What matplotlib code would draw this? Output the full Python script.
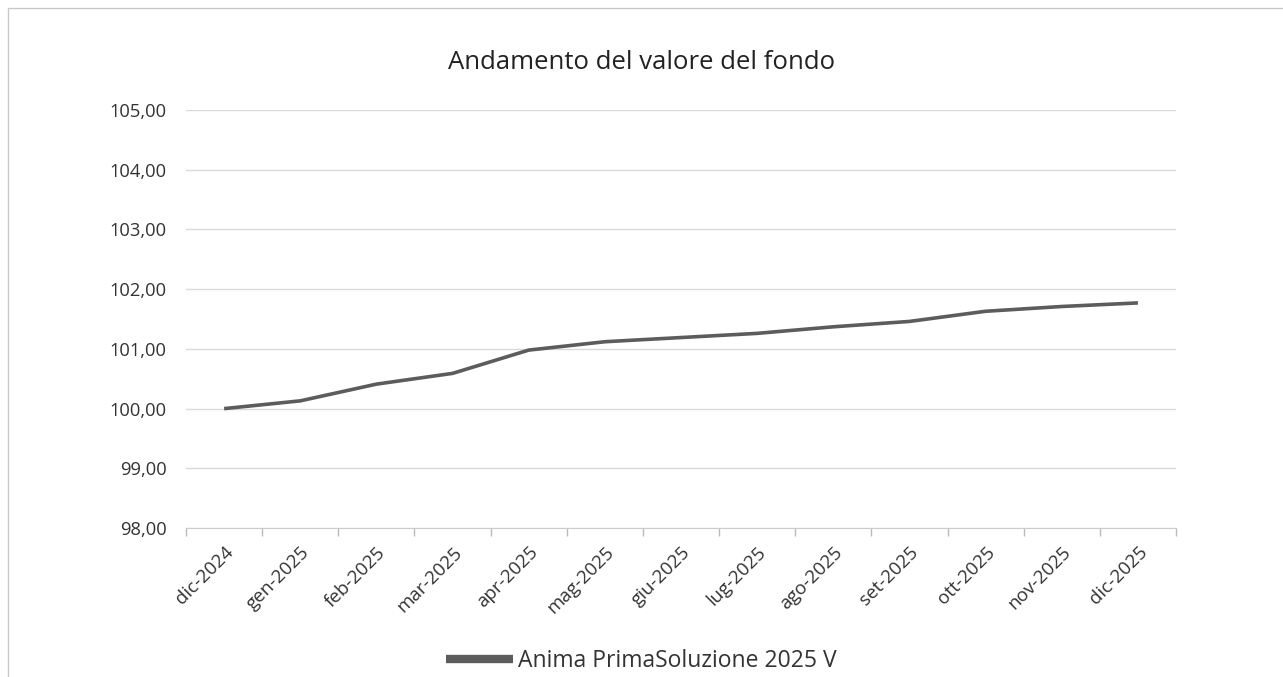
import numpy as np
import matplotlib.pyplot as plt
from matplotlib.patches import Rectangle
from matplotlib.ticker import FuncFormatter, MultipleLocator

plt.rcParams['font.family'] = ['Open Sans', 'DejaVu Sans']

mesi = ["dic-2024", "gen-2025", "feb-2025", "mar-2025", "apr-2025", "mag-2025",
        "giu-2025", "lug-2025", "ago-2025", "set-2025", "ott-2025", "nov-2025", "dic-2025"]
valori = [100.00, 100.13, 100.41, 100.59, 100.98, 101.12, 101.19,
          101.26, 101.37, 101.46, 101.63, 101.71, 101.77]
serie = "Anima PrimaSoluzione 2025 V"

fig = plt.figure(figsize=(12.83, 6.77), dpi=100)
ax = fig.add_axes([0.145, 0.22, 0.7716, 0.6175])

x = np.arange(len(mesi))
ax.plot(x, valori, color="#5c5c5c", lw=2.6, solid_capstyle="butt", label=serie)

ax.set_xlim(-0.5, len(mesi) - 0.5)
ax.set_ylim(98, 105)
ax.yaxis.set_major_locator(MultipleLocator(1))
ax.yaxis.set_major_formatter(FuncFormatter(lambda v, p: f"{v:.2f}".replace(".", ",")))
ax.grid(axis="y", color="#dadada", lw=1)
ax.set_axisbelow(True)

ax.set_xticks(x)
ax.set_xticklabels(mesi, rotation=45, ha="right", rotation_mode="anchor")
ax.set_xticks(np.arange(len(mesi) + 1) - 0.5, minor=True)
ax.tick_params(axis="x", which="major", length=0, pad=11, labelsize=13.5, labelcolor="#333333")
ax.tick_params(axis="x", which="minor", length=6, color="#bbbbbb", width=1)
ax.tick_params(axis="y", length=0, pad=14, labelsize=13.2, labelcolor="#333333")

for s in ["top", "right", "left"]:
    ax.spines[s].set_visible(False)
ax.spines["bottom"].set_color("#cccccc")

fig.text(0.5, 0.908, "Andamento del valore del fondo", ha="center", va="center",
         fontsize=18.5, color="#222222")

fig.legend(loc="center", bbox_to_anchor=(0.5, 0.024), frameon=False, fontsize=16.5,
           handlelength=2.9, handletextpad=0.25, labelcolor="#333333")
fig.legends[0].legend_handles[0].set_linewidth(6)

fig.patches.append(Rectangle((8 / 1283, -0.1), 1.2, 1.1 - 8 / 677, transform=fig.transFigure,
                             fill=False, edgecolor="#c8c8c8", lw=1))

fig.savefig("out.png", dpi=100)
